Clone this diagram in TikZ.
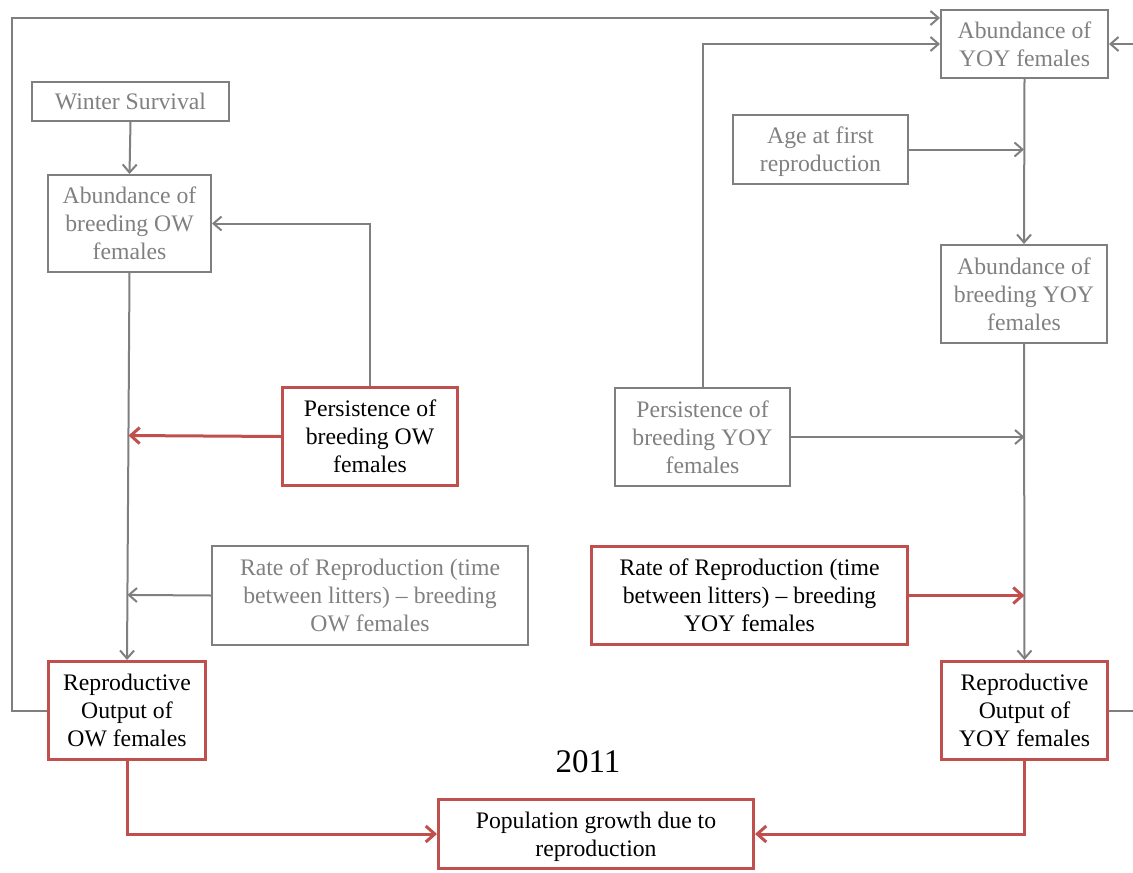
\documentclass[tikz,border=0pt]{standalone}
\usepackage{fontspec}
\setmainfont{Liberation Serif}
\usetikzlibrary{arrows.meta,calc}
\definecolor{boxgray}{RGB}{127,127,127}
\definecolor{txtgray}{RGB}{128,128,128}
\definecolor{accent}{RGB}{192,80,77}
\tikzset{
  basebox/.style={align=center, inner sep=0pt, text depth=0pt, font=\fontsize{23.7}{28}\selectfont},
  gbox/.style={basebox, draw=boxgray, line width=2pt, text=txtgray},
  rbox/.style={basebox, draw=accent, line width=3pt, text=black},
  glink/.style={draw=boxgray, line width=2pt, -{Straight Barb[length=8pt,width=14pt]}},
  rlink/.style={draw=accent, line width=3pt, -{Straight Barb[length=9pt,width=16pt]}},
}
\begin{document}
\begin{tikzpicture}[x=1pt,y=-1pt]
\useasboundingbox (0,0) rectangle (1133,873);
\clip (0,0) rectangle (1133,873);

% left column: overwintered females
\node[gbox, minimum width=197pt, minimum height=39pt] (ws) at (130.5,101.5) {Winter Survival};
\node[gbox, minimum width=163pt, minimum height=97pt] (abow) at (129.5,223.5) {Abundance of\\breeding OW\\females};
\node[rbox, minimum width=175pt, minimum height=98pt] (pow) at (370,436.5) {Persistence of\\breeding OW\\females};
\node[gbox, minimum width=316pt, minimum height=99pt] (rrow) at (370,595.5) {Rate of Reproduction (time\\between litters) -- breeding\\OW females};
\node[rbox, minimum width=157pt, minimum height=98pt] (roow) at (127,710.5) {Reproductive\\Output of\\OW females};

% centre
\node[rbox, minimum width=315pt, minimum height=69pt] (pg) at (596,834) {Population growth due to\\reproduction};
\node[font=\fontsize{33}{38}\selectfont, inner sep=0pt] (yr) at (588,762) {2011};

% right column: young-of-the-year females
\node[gbox, minimum width=167pt, minimum height=68pt] (aby) at (1024.5,44) {Abundance of\\YOY females};
\node[gbox, minimum width=175pt, minimum height=69pt] (afr) at (820.5,149.5) {Age at first\\reproduction};
\node[gbox, minimum width=166pt, minimum height=98pt] (abby) at (1024,294) {Abundance of\\breeding YOY\\females};
\node[gbox, minimum width=175pt, minimum height=98pt] (pyy) at (702.5,437) {Persistence of\\breeding YOY\\females};
\node[rbox, minimum width=316pt, minimum height=98pt] (rryy) at (749.5,595.5) {Rate of Reproduction (time\\between litters) -- breeding\\YOY females};
\node[rbox, minimum width=166pt, minimum height=98pt] (royy) at (1024.5,710.5) {Reproductive\\Output of\\YOY females};

% loop corners and entry points
\coordinate (ayin) at ($(aby.north west)+(0,9)$);
\coordinate (loopL) at (12,18);
\coordinate (loopR) at (1150,44);

% left column links
\draw[glink] (ws.south) -- (abow.north);
\draw[glink] (abow.south) -- (roow.north);
\draw[glink] (pow.north) |- (abow.east);
\draw[rlink] (pow.west) -- ($(abow.south)!(pow.west)!(roow.north)$);
\draw[glink] (rrow.west) -- ($(abow.south)!(rrow.west)!(roow.north)$);
\draw[glink] (roow.west) -| (loopL) -- (ayin);

% right column links
\draw[glink] (pyy.north) |- (aby.west);
\draw[glink] (aby.south) -- (abby.north);
\draw[glink] (afr.east) -- (afr.east -| abby.north);
\draw[glink] (abby.south) -- (royy.north);
\draw[glink] (pyy.east) -- (pyy.east -| royy.north);
\draw[rlink] (rryy.east) -- (rryy.east -| royy.north);
\draw[glink] (royy.east) -| (loopR) -- (aby.east);

% outputs to population growth
\draw[rlink] (roow.south) |- (pg.west);
\draw[rlink] (royy.south) |- (pg.east);
\end{tikzpicture}
\end{document}
